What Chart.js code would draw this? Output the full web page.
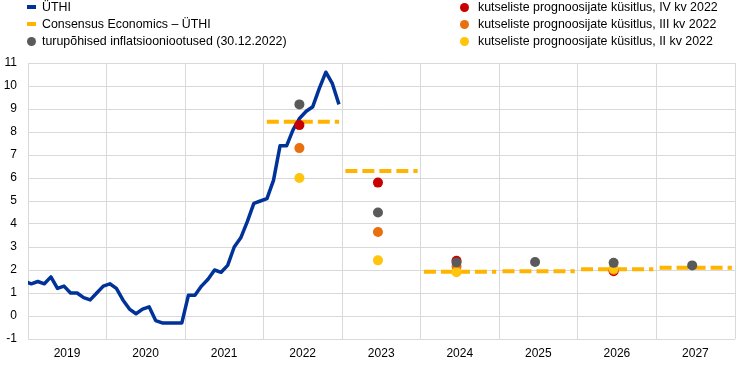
<!DOCTYPE html>
<html>
<head>
<meta charset="utf-8">
<script src="https://cdn.jsdelivr.net/npm/chart.js@4"></script>
<style>
body { margin: 0; background: #fff; font-family: "Liberation Sans", Arial, sans-serif; }
#wrap { position: relative; width: 744px; height: 365px; }
canvas { position: absolute; left: 0; top: 0; }
.leg { position: absolute; font-size: 12.4px; color: #000; white-space: nowrap; line-height: 16px; }
.mark { position: absolute; display: block; }
</style>
</head>
<body>
<div id="wrap">
  <canvas id="c" width="744" height="365"></canvas>
  <div id="legend"></div>
</div>
<script>
// --- andmed ---
const years = [2019, 2020, 2021, 2022, 2023, 2024, 2025, 2026, 2027];

// ÜTHI kuised väärtused, dets 2018 - dets 2022
const hicpStart = [2018, 12];
const hicp = [
  1.5,
  1.4, 1.5, 1.4, 1.7, 1.2, 1.3, 1.0, 1.0, 0.8, 0.7, 1.0, 1.3,
  1.4, 1.2, 0.7, 0.3, 0.1, 0.3, 0.4, -0.2, -0.3, -0.3, -0.3, -0.3,
  0.9, 0.9, 1.3, 1.6, 2.0, 1.9, 2.2, 3.0, 3.4, 4.1, 4.9, 5.0,
  5.1, 5.9, 7.4, 7.4, 8.1, 8.6, 8.9, 9.1, 9.9, 10.6, 10.1, 9.2
];

const consensusYears = [2022, 2023, 2024, 2025, 2026, 2027];
const consensus = [8.45, 6.3, 1.92, 1.95, 2.03, 2.1];

const marketYears = [2022, 2023, 2024, 2025, 2026, 2027];
const market = [9.2, 4.5, 2.33, 2.35, 2.31, 2.2];

const spfYears = [2022, 2023, 2024, 2026];
const spfQ4 = [8.3, 5.8, 2.4, 1.95];
const spfQ3 = [7.3, 3.65, 2.15, 2.0];
const spfQ2 = [6.0, 2.42, 1.9, 2.05];

const C_BLUE = "#003299";
const C_CONS = "#FFB400";
const C_GREY = "#5A5A5A";
const C_RED = "#C80000";
const C_ORANGE = "#E8700F";
const C_YELLOW = "#FFC40C";

// --- legend (HTML) ---
const legendItems = [
  { text: "ÜTHI", color: C_BLUE, kind: "line", x: 27, tx: 42, y: 7 },
  { text: "Consensus Economics – ÜTHI", color: C_CONS, kind: "line", x: 27, tx: 42, y: 24 },
  { text: "turupõhised inflatsiooniootused (30.12.2022)", color: C_GREY, kind: "dot", x: 27, tx: 42, y: 41 },
  { text: "kutseliste prognoosijate küsitlus, IV kv 2022", color: C_RED, kind: "dot", x: 459.5, tx: 478, y: 7 },
  { text: "kutseliste prognoosijate küsitlus, III kv 2022", color: C_ORANGE, kind: "dot", x: 459.5, tx: 478, y: 24 },
  { text: "kutseliste prognoosijate küsitlus, II kv 2022", color: C_YELLOW, kind: "dot", x: 459.5, tx: 478, y: 41 }
];

const legend = document.getElementById("legend");
legendItems.forEach(it => {
  const m = document.createElement("span");
  m.className = "mark";
  m.style.background = it.color;
  m.style.left = it.x + "px";
  if (it.kind === "line") {
    m.style.top = (it.y - 2) + "px";
    m.style.width = "9px";
    m.style.height = "4px";
  } else {
    m.style.top = (it.y - 4.5) + "px";
    m.style.width = "9px";
    m.style.height = "9px";
    m.style.borderRadius = "50%";
  }
  legend.appendChild(m);

  const t = document.createElement("div");
  t.className = "leg";
  t.textContent = it.text;
  t.style.left = it.tx + "px";
  t.style.top = (it.y - 8) + "px";
  legend.appendChild(t);
});

// --- andmeseeriad ---
const hicpData = hicp.map((v, i) => {
  const k = hicpStart[1] - 1 + i;
  return { x: hicpStart[0] + Math.floor(k / 12) + ((k % 12) + 0.5) / 12, y: v };
});

const consData = [];
consensusYears.forEach((yr, i) => {
  consData.push({ x: yr + 0.04, y: consensus[i] });
  consData.push({ x: yr + 0.96, y: consensus[i] });
  consData.push({ x: yr + 0.98, y: null });
});

const dots = (yrs, vals) => yrs.map((yr, i) => ({ x: yr + 0.455, y: vals[i] }));

function dotSet(label, data, color) {
  return {
    label, data,
    showLine: false,
    pointRadius: 5,
    pointHoverRadius: 5,
    pointBorderWidth: 0,
    pointBackgroundColor: color,
    borderColor: color
  };
}

// esimene andmestik on pealmine
const datasets = [
  dotSet("turupõhised", dots(marketYears, market), C_GREY),
  dotSet("SPF II", dots(spfYears, spfQ2), C_YELLOW),
  dotSet("SPF III", dots(spfYears, spfQ3), C_ORANGE),
  dotSet("SPF IV", dots(spfYears, spfQ4), C_RED),
  {
    label: "ÜTHI",
    data: hicpData,
    borderColor: C_BLUE,
    borderWidth: 3.5,
    pointRadius: 0,
    tension: 0,
    clip: 0,
    borderJoinStyle: "round"
  },
  {
    label: "Consensus",
    data: consData,
    borderColor: C_CONS,
    borderWidth: 4,
    borderDash: [12, 5],
    pointRadius: 0,
    spanGaps: false,
    tension: 0
  }
];

const font = { family: "'Liberation Sans', Arial, sans-serif", size: 12 };

new Chart(document.getElementById("c").getContext("2d"), {
  type: "line",
  data: { datasets },
  options: {
    responsive: false,
    animation: false,
    events: [],
    layout: { padding: { top: 63, right: 9, left: 0, bottom: 0 } },
    plugins: { legend: { display: false }, tooltip: { enabled: false } },
    scales: {
      x: {
        type: "linear",
        min: years[0],
        max: years[years.length - 1] + 1,
        grid: { color: "#d9d9d9", drawTicks: false },
        border: { display: false },
        ticks: {
          stepSize: 1,
          autoSkip: false,
          maxRotation: 0,
          labelOffset: 39,
          padding: 7,
          color: "#000",
          font,
          callback: v => years.includes(v) ? String(v) : ""
        },
        afterFit: s => { s.height = 26; }
      },
      y: {
        min: -1,
        max: 11,
        grid: { color: "#d9d9d9", drawTicks: false },
        border: { display: false },
        ticks: { stepSize: 1, padding: 11, color: "#000", font },
        afterFit: s => { s.width = 28; }
      }
    }
  }
});
</script>
</body>
</html>
